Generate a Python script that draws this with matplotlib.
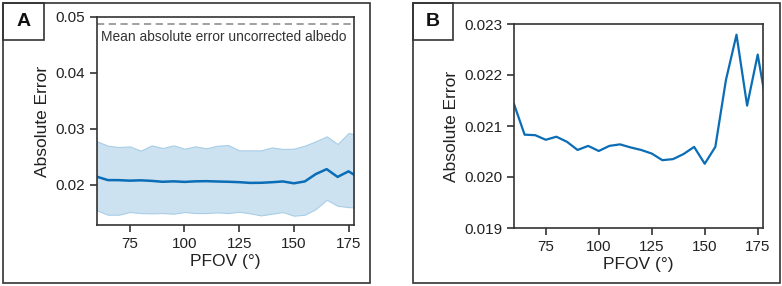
import matplotlib.pyplot as plt
from matplotlib.patches import Rectangle

plt.rcParams['font.family'] = ['Liberation Sans', 'DejaVu Sans']

pfov = [60, 65, 70, 75, 80, 85, 90, 95, 100, 105, 110, 115, 120, 125, 130,
        135, 140, 145, 150, 155, 160, 165, 170, 175, 180]
mean_err = [0.02143, 0.02083, 0.02082, 0.02073, 0.02079, 0.02069, 0.02053,
            0.02061, 0.02051, 0.02061, 0.02064, 0.02058, 0.02053, 0.02046,
            0.02033, 0.02035, 0.02045, 0.02059, 0.02026, 0.02059, 0.0219,
            0.02279, 0.0214, 0.0224, 0.0212]
upper = [0.02776, 0.02698, 0.02674, 0.02686, 0.02609, 0.02704, 0.02657,
         0.02704, 0.02645, 0.02686, 0.02651, 0.02698, 0.0271, 0.02615,
         0.02615, 0.02615, 0.02668, 0.02639, 0.02645, 0.02698, 0.02776,
         0.02865, 0.02728, 0.02925, 0.0289]
lower = [0.01541, 0.01464, 0.01464, 0.01512, 0.01494, 0.01488, 0.01494,
         0.01482, 0.01512, 0.01494, 0.01494, 0.01506, 0.01494, 0.01517,
         0.01488, 0.01452, 0.01482, 0.01512, 0.01446, 0.01464, 0.01565,
         0.01732, 0.01624, 0.016, 0.0159]
uncorrected = 0.0487

line_c = '#0a6db5'
band_c = '#cce2f0'
edge_c = '#333333'
fs_tick = 11
fs_lab = 12.5

fig = plt.figure(figsize=(7.82, 2.86), dpi=100)
W, H = 782, 286


def fbox(x0, y0, x1, y1):
    # pixel coords (top-left origin) -> figure fraction rect
    return [x0 / W, 1 - y1 / H, (x1 - x0) / W, (y1 - y0) / H]


def style(ax):
    for s in ax.spines.values():
        s.set_color(edge_c)
        s.set_linewidth(1.2)
    ax.tick_params(direction='out', length=5, width=1.2, colors=edge_c,
                   labelsize=fs_tick, labelcolor='#222222')
    ax.set_xlabel('PFOV (°)', fontsize=fs_lab, color='#222222', labelpad=2)
    ax.set_ylabel('Absolute Error', fontsize=fs_lab, color='#222222', labelpad=4)
    ax.set_xticks([75, 100, 125, 150, 175])
    ax.set_xlim(60, 177.5)


# panel frames and letters
for (x0, x1, letter, lx1) in [(3, 370, 'A', 44), (413, 780, 'B', 453)]:
    fig.patches.append(Rectangle((x0 / W, 1 - 283 / H), (x1 - x0) / W, 280 / H,
                                 transform=fig.transFigure, fill=False,
                                 ec=edge_c, lw=1.2))
    fig.patches.append(Rectangle((x0 / W, 1 - 40 / H), (lx1 - x0) / W, 37 / H,
                                 transform=fig.transFigure, fill=False,
                                 ec=edge_c, lw=1.2))
    fig.text((x0 + lx1) / 2 / W, 1 - 22 / H, letter, fontsize=14,
             fontweight='bold', ha='center', va='center', color='#111111')

# A
ax1 = fig.add_axes(fbox(97, 17, 354, 225))
ax1.fill_between(pfov, lower, upper, color=band_c, ec='#a8cde6', lw=0.8)
ax1.plot(pfov, mean_err, color=line_c, lw=1.8)
ax1.axhline(uncorrected, color='#999999', ls='--', lw=1.3, dashes=(4, 2.5))
ax1.text(62, 0.0477, 'Mean absolute error uncorrected albedo', fontsize=9.9,
         color='#333333', va='top')
ax1.set_ylim(0.0128, 0.05)
ax1.set_yticks([0.02, 0.03, 0.04, 0.05])
style(ax1)

# B
ax2 = fig.add_axes(fbox(514, 24, 763, 228))
ax2.plot(pfov, mean_err, color=line_c, lw=1.6)
ax2.set_ylim(0.019, 0.023)
ax2.set_yticks([0.019, 0.020, 0.021, 0.022, 0.023])
ax2.set_yticklabels(['0.019', '0.020', '0.021', '0.022', '0.023'])
style(ax2)

fig.savefig('out.png', dpi=100)
